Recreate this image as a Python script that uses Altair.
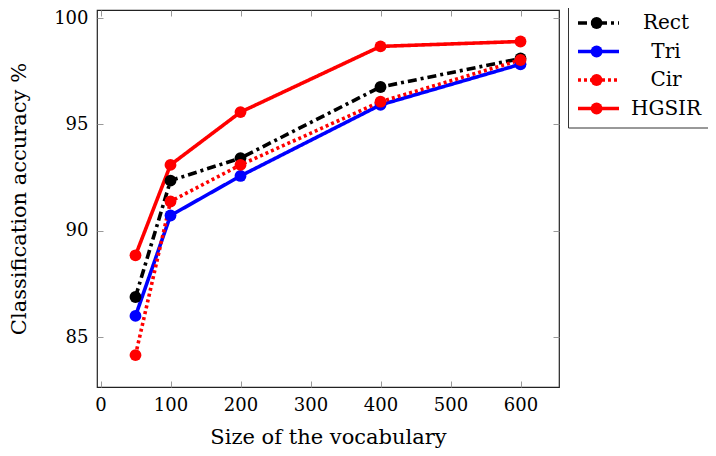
import altair as alt
import pandas as pd

sizes = [50, 100, 200, 400, 600]
rect = [86.89, 92.36, 93.42, 96.76, 98.10]
tri = [86.00, 90.72, 92.58, 95.92, 97.83]
cir = [84.16, 91.38, 93.10, 96.07, 98.03]
hgsir = [88.85, 93.10, 95.58, 98.67, 98.90]

series_names = ["Rect", "Tri", "Cir", "HGSIR"]
marker_names = ["Rect marker", "Tri marker", "Cir marker", "HGSIR marker"]
series_values = [rect, tri, cir, hgsir]
colors = ["#000000", "#0000ff", "#ff0000", "#ff0000"]
dashes = [[9, 4, 3, 4], [1, 0], [3, 3], [1, 0]]

x_ticks = [0, 100, 200, 300, 400, 500, 600]
y_ticks = [85, 90, 95, 100]
x_domain = [-5, 655]
y_domain = [82.66, 100.38]

rows = []
for name, mname, vals in zip(series_names, marker_names, series_values):
    for s, v in zip(sizes, vals):
        rows.append({"size": s, "acc": v, "series": name, "marker": mname})
df = pd.DataFrame(rows)

FONT = "DejaVu Serif"

xs = alt.Scale(domain=x_domain, nice=False, zero=False)
ys = alt.Scale(domain=y_domain, nice=False, zero=False)

base = alt.Chart(df)

main_x_axis = alt.Axis(values=x_ticks, title="Size of the vocabulary", ticks=False,
                       domain=False, grid=False, labelPadding=9, titlePadding=12)
main_y_axis = alt.Axis(values=y_ticks, title="Classification accuracy %", ticks=False,
                       domain=False, grid=False, labelPadding=9, titlePadding=24)

legend_line = alt.Legend(title=None, orient="none", legendX=471, legendY=-5.5,
                         symbolType="stroke", symbolSize=1681, symbolStrokeWidth=3.6,
                         labelFontSize=20, labelFont=FONT, labelAlign="center",
                         labelOffset=45, rowPadding=7.5, padding=8, clipHeight=21,
                         strokeColor="#333333", labelLimit=200)

lines = base.mark_line(strokeWidth=3.6, strokeCap="butt").encode(
    x=alt.X("size:Q", scale=xs, axis=main_x_axis),
    y=alt.Y("acc:Q", scale=ys, axis=main_y_axis),
    color=alt.Color("series:N", scale=alt.Scale(domain=series_names, range=colors),
                    legend=legend_line, sort=series_names),
    strokeDash=alt.StrokeDash("series:N", scale=alt.Scale(domain=series_names, range=dashes),
                              legend=legend_line, sort=series_names),
)

legend_pts = alt.Legend(title=None, orient="none", legendX=485.6, legendY=-5.5,
                        symbolType="circle", symbolSize=140, symbolStrokeWidth=0,
                        labelExpr="''", labelFontSize=1, labelOffset=0,
                        rowPadding=7.5, padding=8, clipHeight=21,
                        strokeColor="transparent")

points = base.mark_circle(size=140, opacity=1).encode(
    x=alt.X("size:Q", scale=xs, axis=None),
    y=alt.Y("acc:Q", scale=ys, axis=None),
    fill=alt.Fill("marker:N", scale=alt.Scale(domain=marker_names, range=colors),
                  legend=legend_pts, sort=marker_names),
)

tick_style = dict(labels=False, domain=False, grid=False, title=None,
                  ticks=True, tickSize=6, tickColor="#999999", tickWidth=1, offset=-6)

ticks_bl = base.mark_circle(opacity=0).encode(
    x=alt.X("size:Q", scale=xs, axis=alt.Axis(orient="bottom", values=x_ticks, **tick_style)),
    y=alt.Y("acc:Q", scale=ys, axis=alt.Axis(orient="left", values=y_ticks, **tick_style)),
)
ticks_tr = base.mark_circle(opacity=0).encode(
    x=alt.X("size:Q", scale=xs, axis=alt.Axis(orient="top", values=x_ticks, **tick_style)),
    y=alt.Y("acc:Q", scale=ys, axis=alt.Axis(orient="right", values=y_ticks, **tick_style)),
)

chart = alt.layer(lines, points, ticks_bl, ticks_tr).resolve_axis(
    x="independent", y="independent"
).properties(
    width=462, height=377,
    autosize=alt.AutoSizeParams(type="none"),
    padding={"left": 89, "top": 2, "right": 149, "bottom": 61},
).configure_view(stroke="#222222", strokeWidth=1.2).configure_axis(
    labelFont=FONT, titleFont=FONT, labelFontSize=18, titleFontSize=21,
    labelColor="#000000", titleColor="#000000", titleFontWeight="normal",
)

chart.save("out.html", embed_options={"renderer": "svg", "actions": False})
